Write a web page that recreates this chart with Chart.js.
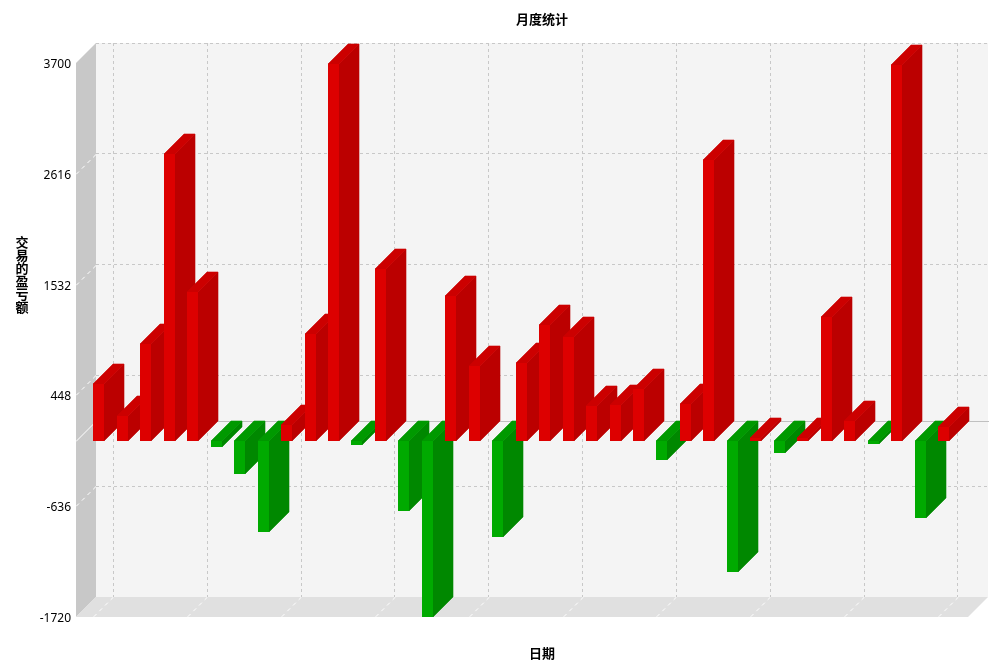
<!DOCTYPE html>
<html>
<head>
<meta charset="utf-8">
<title>月度统计</title>
<script src="https://cdn.jsdelivr.net/npm/chart.js@4/dist/chart.umd.min.js"></script>
<style>
    html, body { margin: 0; padding: 0; background: #ffffff; }
    #wrap { width: 1004px; height: 668px; }
</style>
</head>
<body>
<div id="wrap"><canvas id="mainChart" width="1004" height="668"></canvas></div>
<script>
const chartTitle = '月度统计';
const xTitle = '日期';
const yTitle = '交易的盈亏额';

// 月份序号 (원본 x축 라벨은 보이지 않음)
const months = [
    0, 1, 2, 3, 4, 5, 6, 7, 8, 9,
    10, 11, 12, 13, 14, 15, 16, 17, 18, 19,
    20, 21, 22, 23, 24, 25, 26, 27, 28, 29,
    30, 31, 32, 33, 34, 35, 36,
];
const profits = [
    558, 247, 949, 2808, 1461, -59, -320, -887, 157, 1047,
    3695, -39, 1683, -685, -1720, 1419, 737, -939, 763, 1135,
    1020, 345, 352, 509, -186, 362, 2749, -1282, 29, -114,
    29, 1213, 199, -26, 3679, -750, 137,
];
const monthTicks = [0, 4, 8, 12, 16, 20, 24, 28, 32, 36];
const valueTicks = [-1720, -636, 448, 1532, 2616, 3700];

const DEPTH = 20;
const FONT = "'Noto Sans', sans-serif";
const CJK_FONT = "'Noto Sans CJK SC', sans-serif";

const RED = { front: '#dd0000', side: '#bb0000', top: '#cc0000' };
const GREEN = { front: '#00aa00', side: '#008800', top: '#009900' };

function polygon(ctx, color, points, seal) {
    ctx.fillStyle = color;
    ctx.beginPath();
    points.forEach(([x, y], i) => (i ? ctx.lineTo(x, y) : ctx.moveTo(x, y)));
    ctx.closePath();
    ctx.fill();
    if (seal) {
        // 안티앨리어싱 틈 메우기
        ctx.strokeStyle = color;
        ctx.lineWidth = 0.6;
        ctx.stroke();
    }
}

function dashedLine(ctx, color, dash, x1, y1, x2, y2) {
    ctx.strokeStyle = color;
    ctx.lineWidth = 1;
    ctx.setLineDash(dash);
    ctx.beginPath();
    ctx.moveTo(x1, y1);
    ctx.lineTo(x2, y2);
    ctx.stroke();
    ctx.setLineDash([]);
}

// ─── 3D 벽면 / 막대 ───

const walls3d = {
    id: 'walls3d',
    beforeDraw(chart) {
        const { ctx, chartArea: a, scales } = chart;
        ctx.save();
        ctx.fillStyle = '#f4f4f4';
        ctx.fillRect(a.left, a.top, a.right - a.left, a.bottom - a.top);
        polygon(ctx, '#c8c8c8', [
            [a.left, a.top], [a.left, a.bottom],
            [a.left - DEPTH, a.bottom + DEPTH], [a.left - DEPTH, a.top + DEPTH],
        ]);
        polygon(ctx, '#e0e0e0', [
            [a.left, a.bottom], [a.right, a.bottom],
            [a.right - DEPTH, a.bottom + DEPTH], [a.left - DEPTH, a.bottom + DEPTH],
        ]);

        // 옆면/바닥의 눈금 연장선
        valueTicks.slice(1, -1).forEach((v) => {
            const y = Math.round(scales.y.getPixelForValue(v)) + 0.5;
            dashedLine(ctx, '#ffffff', [4, 4], a.left, y, a.left - DEPTH, y + DEPTH);
        });
        monthTicks.forEach((m) => {
            const x = Math.round(scales.x.getPixelForValue(m)) + 0.5;
            dashedLine(ctx, '#ffffff', [4, 4], x, a.bottom, x - DEPTH, a.bottom + DEPTH);
        });

        // 0 기준선
        const y0 = Math.round(scales.y.getPixelForValue(0)) + 0.5;
        dashedLine(ctx, '#ffffff', [], a.left, y0, a.left - DEPTH, y0 + DEPTH);
        dashedLine(ctx, '#c0c0c0', [], a.left, y0, a.right + 1, y0);
        ctx.restore();
    },
};

const bars3d = {
    id: 'bars3d',
    afterDatasetsUpdate(chart) {
        // 픽셀에 맞춰 선명하게
        chart.getDatasetMeta(0).data.forEach((el) => {
            el.x = Math.round(el.x);
            el.y = Math.round(el.y);
            el.base = Math.round(el.base);
        });
    },
    beforeDatasetDraw(chart) {
        const { ctx } = chart;
        const meta = chart.getDatasetMeta(0);
        ctx.save();
        meta.data.forEach((el, i) => {
            const colors = profits[i] >= 0 ? RED : GREEN;
            const w = el.width;
            const left = el.x - DEPTH;
            const right = left + w;
            const top = Math.min(el.y, el.base) + DEPTH;
            const bottom = Math.max(el.y, el.base) + DEPTH;
            polygon(ctx, colors.side, [
                [right, top], [right + DEPTH, top - DEPTH],
                [right + DEPTH, bottom - DEPTH], [right, bottom],
            ], true);
            polygon(ctx, colors.top, [
                [left, top], [left + DEPTH, top - DEPTH],
                [right + DEPTH, top - DEPTH], [right, top],
            ], true);
        });
        // 앞면: 기본 막대를 앞쪽으로 이동, 막대 왼쪽이 눈금에 맞음
        ctx.translate(meta.data[0].width / 2 - DEPTH, DEPTH);
    },
    afterDatasetDraw(chart) {
        chart.ctx.restore();
    },
};

const stackedYTitle = {
    id: 'stackedYTitle',
    afterDraw(chart) {
        const { ctx } = chart;
        const step = 13;
        const chars = Array.from(yTitle);
        ctx.save();
        ctx.fillStyle = '#000000';
        ctx.font = `bold 13px ${CJK_FONT}`;
        ctx.textAlign = 'center';
        ctx.textBaseline = 'middle';
        chars.forEach((c, i) => {
            ctx.fillText(c, 22, 274.5 + (i - (chars.length - 1) / 2) * step);
        });
        ctx.restore();
    },
};

new Chart(document.getElementById('mainChart').getContext('2d'), {
    type: 'bar',
    data: {
        datasets: [{
            data: months.map((m, i) => ({ x: m, y: profits[i] })),
            backgroundColor: profits.map((v) => (v >= 0 ? RED.front : GREEN.front)),
            barThickness: 11,
            borderWidth: 0,
            inflateAmount: 0,
            clip: false,
        }],
    },
    options: {
        responsive: false,
        animation: false,
        layout: { padding: { left: 0, right: 16, top: 0, bottom: 0 } },
        plugins: {
            legend: { display: false },
            tooltip: { enabled: false },
            title: {
                display: true,
                text: chartTitle,
                fullSize: false,
                color: '#000000',
                font: { family: CJK_FONT, size: 13, weight: 'bold', lineHeight: 1.2 },
                padding: { top: 11.5, bottom: 15.9 },
            },
        },
        scales: {
            x: {
                type: 'linear',
                offset: false,
                min: -0.74,
                max: 37.28,
                afterBuildTicks: (scale) => { scale.ticks = monthTicks.map((value) => ({ value })); },
                afterFit: (scale) => { scale.height = 71; },
                ticks: { display: false },
                grid: { color: '#c8c8c8', drawTicks: false, offset: false },
                border: { display: false, dash: [3, 3] },
                title: {
                    display: true,
                    text: xTitle,
                    color: '#000000',
                    font: { family: CJK_FONT, size: 13, weight: 'bold', lineHeight: 1.2 },
                    padding: { top: 0, bottom: 7 },
                },
            },
            y: {
                type: 'linear',
                min: valueTicks[0],
                max: valueTicks[valueTicks.length - 1],
                afterBuildTicks: (scale) => { scale.ticks = valueTicks.map((value) => ({ value })); },
                afterFit: (scale) => { scale.width = 96; },
                ticks: {
                    color: '#000000',
                    font: { family: FONT, size: 12 },
                    padding: 25,
                    labelOffset: DEPTH + 1.5,
                    callback: (v) => String(v),
                },
                grid: {
                    color: (c) => (c.tick && c.tick.value === valueTicks[0] ? 'rgba(0,0,0,0)' : '#c8c8c8'),
                    drawTicks: false,
                },
                border: { display: false, dash: [3, 3] },
            },
        },
    },
    plugins: [walls3d, bars3d, stackedYTitle],
});
</script>
</body>
</html>
